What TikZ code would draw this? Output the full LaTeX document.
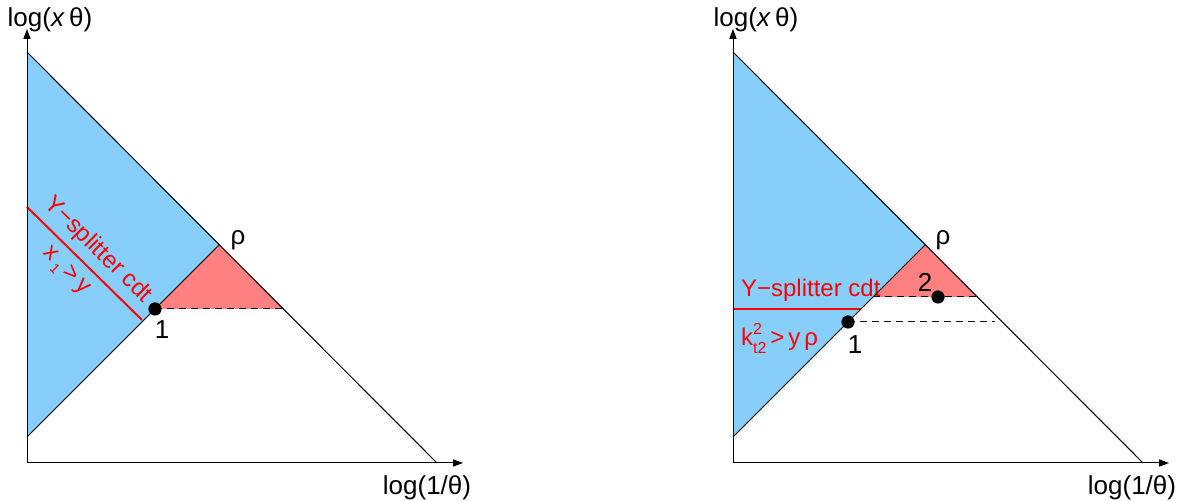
\documentclass[tikz,border=0pt]{standalone}
\usepackage{fontspec}
\setmainfont{Liberation Sans}
\usepackage{xcolor}
\definecolor{myblue}{RGB}{135,206,250}
\definecolor{mypink}{RGB}{255,128,128}
\colorlet{myred}{red}
\usetikzlibrary{arrows.meta}

\begin{document}
\begin{tikzpicture}[x=0.5pt,y=0.5pt,
    axis/.style={line width=0.5pt,-{Triangle[length=5pt,width=3.6pt]}},
    edge/.style={line width=0.5pt},
    cut/.style={line width=0.5pt,dash pattern=on 3.5pt off 2.5pt},
    lbl/.style={font=\fontsize{13}{15}\selectfont},
    redlbl/.style={text=myred,font=\fontsize{12}{14}\selectfont}]
        \useasboundingbox (0,0) rectangle (1183,501);

        % left panel
        \coordinate (o1) at (27,38);
        \coordinate (top1) at (27,449);
        \coordinate (low1) at (27,64);
        \coordinate (end1) at (437,38);
        \coordinate (rho1) at (219.5,256.5);
        \coordinate (p1) at (155,192);
        \coordinate (q1) at (284,192);
        \coordinate (s1) at (27,294);
        \coordinate (t1) at (142,181);
        \fill[myblue] (top1) -- (rho1) -- (low1) -- cycle;
        \fill[mypink] (p1) -- (rho1) -- (q1) -- cycle;
        \draw[myred, line width=1pt] (s1) -- (t1)
            node[midway, above, sloped, redlbl, inner sep=3.5pt] {Y−splitter cdt}
            node[pos=0.45, below, sloped, redlbl, inner sep=4pt] {x\,\raisebox{-0.5ex}{\scriptsize 1}\,>\,y};
        \draw[edge] (top1) -- (end1) (low1) -- (rho1);
        \draw[cut] (p1) -- (q1);
        \draw[axis] (o1) -- (27,472);
        \draw[axis] (o1) -- (463,38);
        \fill (p1) circle [radius=3.3pt];
        \node[lbl] (ylab1) at (50,481) {log(\textit{x}\,θ)};
        \node[lbl] (xlab1) at (427,13) {log(1/θ)};
        \node[lbl] (rholab1) at (238,261) {ρ};
        \node[lbl] (one1) at (162,171) {1};

        % right panel
        \coordinate (o2) at (733,38);
        \coordinate (top2) at (733,449);
        \coordinate (low2) at (733,64);
        \coordinate (end2) at (1143,38);
        \coordinate (rho2) at (925.5,256.5);
        \coordinate (p2) at (848,179);
        \coordinate (q2) at (995,179);
        \coordinate (a2) at (873,204);
        \coordinate (b2) at (978,204);
        \coordinate (c2) at (938,204);
        \coordinate (s2) at (733,192);
        \coordinate (t2) at (861,192);
        \fill[myblue] (top2) -- (rho2) -- (low2) -- cycle;
        \fill[mypink] (a2) -- (rho2) -- (b2) -- cycle;
        \draw[myred, line width=1pt] (s2) -- (t2);
        \node[redlbl, anchor=west] (ysplit2) at (734,211) {Y−splitter cdt};
        \node[redlbl, anchor=west] (kt2) at (734,163)
            {k\makebox[0pt][l]{\raisebox{0.9ex}{\footnotesize 2}}\raisebox{-0.6ex}{\footnotesize t2}\,>\,y\,ρ};
        \draw[edge] (top2) -- (end2) (low2) -- (rho2);
        \draw[cut] (a2) -- (b2);
        \draw[cut] (p2) -- (q2);
        \draw[axis] (o2) -- (733,472);
        \draw[axis] (o2) -- (1169,38);
        \fill (p2) circle [radius=3.3pt];
        \fill (c2) circle [radius=3.3pt];
        \node[lbl] (ylab2) at (756,481) {log(\textit{x}\,θ)};
        \node[lbl] (xlab2) at (1132,13) {log(1/θ)};
        \node[lbl] (rholab2) at (943,261) {ρ};
        \node[lbl] (one2) at (855,156) {1};
        \node[lbl] (two2) at (925,219) {2};
\end{tikzpicture}
\end{document}
